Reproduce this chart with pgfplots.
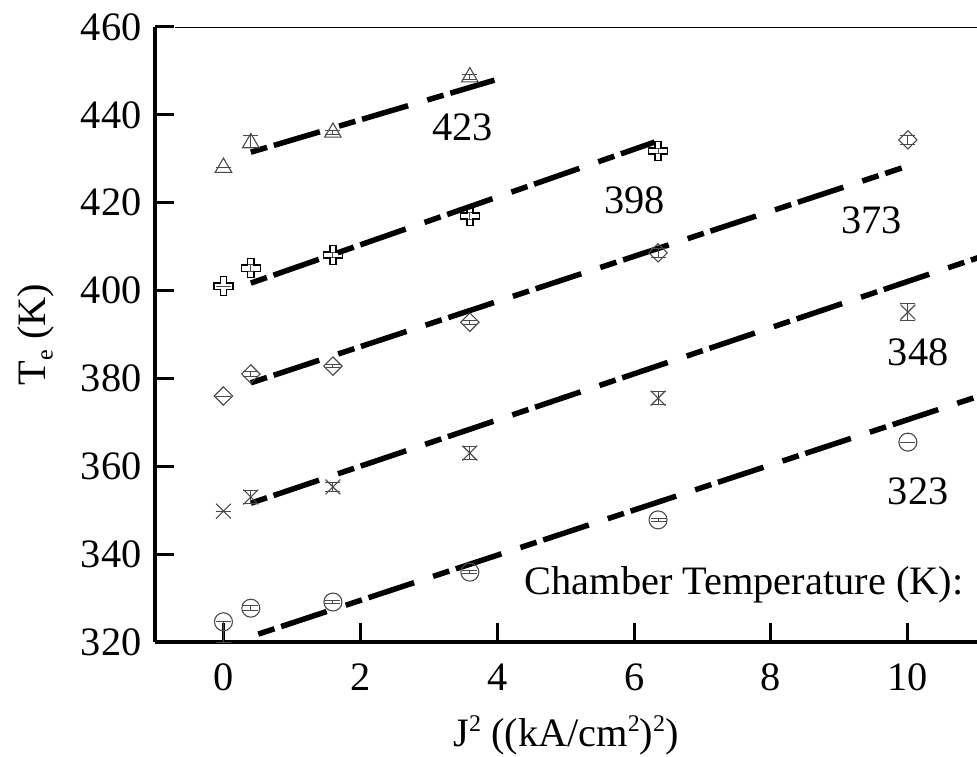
\documentclass[border=0pt]{standalone}
\usepackage{pgfplots}
\pgfplotsset{compat=1.18}
\usepackage{fontspec}
\setmainfont{Liberation Serif}

\pgfdeclareplotmark{ocross}{%
  \pgfpathmoveto{\pgfpoint{0.33\pgfplotmarksize}{\pgfplotmarksize}}%
  \pgfpathlineto{\pgfpoint{0.33\pgfplotmarksize}{0.33\pgfplotmarksize}}%
  \pgfpathlineto{\pgfpoint{\pgfplotmarksize}{0.33\pgfplotmarksize}}%
  \pgfpathlineto{\pgfpoint{\pgfplotmarksize}{-0.33\pgfplotmarksize}}%
  \pgfpathlineto{\pgfpoint{0.33\pgfplotmarksize}{-0.33\pgfplotmarksize}}%
  \pgfpathlineto{\pgfpoint{0.33\pgfplotmarksize}{-\pgfplotmarksize}}%
  \pgfpathlineto{\pgfpoint{-0.33\pgfplotmarksize}{-\pgfplotmarksize}}%
  \pgfpathlineto{\pgfpoint{-0.33\pgfplotmarksize}{-0.33\pgfplotmarksize}}%
  \pgfpathlineto{\pgfpoint{-\pgfplotmarksize}{-0.33\pgfplotmarksize}}%
  \pgfpathlineto{\pgfpoint{-\pgfplotmarksize}{0.33\pgfplotmarksize}}%
  \pgfpathlineto{\pgfpoint{-0.33\pgfplotmarksize}{0.33\pgfplotmarksize}}%
  \pgfpathlineto{\pgfpoint{-0.33\pgfplotmarksize}{\pgfplotmarksize}}%
  \pgfpathclose
  \pgfusepathqstroke
}

\definecolor{mk}{HTML}{4A4A4A}
\newcommand{\bigfont}{\fontsize{40.5}{46}\selectfont}
\newcommand{\sups}[1]{\raisebox{15bp}{\fontsize{24}{24}\selectfont #1}}
\newcommand{\subs}[1]{\raisebox{-7bp}{\fontsize{24}{24}\selectfont #1}}

\begin{document}
\begin{tikzpicture}
\begin{axis}[
  width=822bp, height=615bp, scale only axis,
  xmin=-1, xmax=11.01, ymin=320, ymax=460,
  axis x line*=bottom, axis y line*=left,
  axis line style={line width=3.5bp, -},
  xtick={0,2,...,10}, ytick={320,340,...,460},
  tick align=inside,
  major tick length=19bp,
  tick style={line width=3bp, black},
  font=\bigfont,
  tick label style={font=\bigfont},
  /pgf/number format/assume math mode=true,
  yticklabel style={xshift=-10bp},
  xticklabel style={yshift=-18bp},
  xlabel={J\sups{2} ((kA/cm\sups{2})\sups{2})},
  ylabel={T\subs{e} (K)},
  xlabel style={font=\bigfont},
  ylabel style={font=\bigfont},
  xlabel shift=18bp,
  ylabel shift=20bp,
  clip=true,
  fitline/.style={black, line width=5.5bp, dash pattern=on 17bp off 7bp on 48bp off 20bp, no marks},
  pts/.style={only marks, mk, mark size=9.5bp, mark options={line width=1.1bp, mk, fill=none},
    error bars/y dir=both, error bars/y explicit,
    error bars/error bar style={line width=1bp, mk},
    error bars/error mark options={rotate=90, mark size=7.5bp, line width=1bp, mk}},
]
\coordinate (ll) at (rel axis cs:0,0);
\coordinate (ul) at (rel axis cs:0,1);
\coordinate (ur) at (rel axis cs:1,1);

% fitted lines
\addplot[fitline] coordinates {(0.4,431.5) (3.96,447.9)};
\addplot[fitline] coordinates {(0.4,401.7) (6.3,433.8)};
\addplot[fitline] coordinates {(0.4,379.0) (9.91,427.9)};
\addplot[fitline] coordinates {(0.4,351.6) (11.2,408.4)};
\addplot[fitline] coordinates {(0.51,321.8) (11.2,376.8)};

% 423 K
\addplot[pts, mark=triangle] table[y error plus=ep, y error minus=em] {
x y ep em
0 428 0 0
0.4 433.6 1.8 1.0
1.6 436.0 0.5 0.5
3.6 448.6 0.5 0.5
};
% 398 K
\addplot[pts, mark=ocross, mark options={line width=1.6bp, black}] table[y error plus=ep, y error minus=em] {
x y ep em
0 401.0 0 0
0.4 405.1 0.8 0.8
1.6 408.1 0.5 0.5
3.6 417.0 0.8 0.8
6.35 431.8 0.5 0.5
};
% 373 K
\addplot[pts, mark=square, mark size=6.5bp, mark options={rotate=45, line width=1.1bp, mk, fill=none}] table[y error plus=ep, y error minus=em] {
x y ep em
0 376.0 0 0
0.4 381.0 0.5 0.5
1.6 382.8 0.3 0.3
3.6 392.8 0.5 0.5
6.35 408.6 1.0 1.0
10 434.3 1.0 1.0
};
% 348 K
\addplot[pts, mark=x, mark size=10.5bp] table[y error plus=ep, y error minus=em] {
x y ep em
0 349.8 0 0
0.4 353.0 1.5 1.5
1.6 355.3 1.0 1.0
3.6 363.0 1.5 1.5
6.35 375.5 1.5 1.5
10 395.1 2.0 2.0
};
% 323 K
\addplot[pts, mark=o, mark size=9bp] table[y error plus=ep, y error minus=em] {
x y ep em
0 324.6 0 4.8
0.4 327.7 0.5 0.5
1.6 329.1 0.3 0.3
3.6 335.9 0.3 0.3
6.35 347.8 0.3 0.3
10 365.5 0 0
};

\node[font=\bigfont] at (axis cs:3.49,437.2) {423};
\node[font=\bigfont] at (axis cs:6.01,420.6) {398};
\node[font=\bigfont] at (axis cs:9.47,416.1) {373};
\node[font=\bigfont] at (axis cs:10.15,386.0) {348};
\node[font=\bigfont] at (axis cs:10.15,354.2) {323};
\node[font=\bigfont, anchor=east] at (axis cs:10.86,333.0) {Chamber Temperature (K):};
\end{axis}
\draw[line width=0.9bp] ([xshift=20bp]ul) -- (ur);
\pgfresetboundingbox
\path ([shift={(-155bp,-115bp)}]ll) rectangle ++(977bp,757bp);
\end{tikzpicture}
\end{document}
